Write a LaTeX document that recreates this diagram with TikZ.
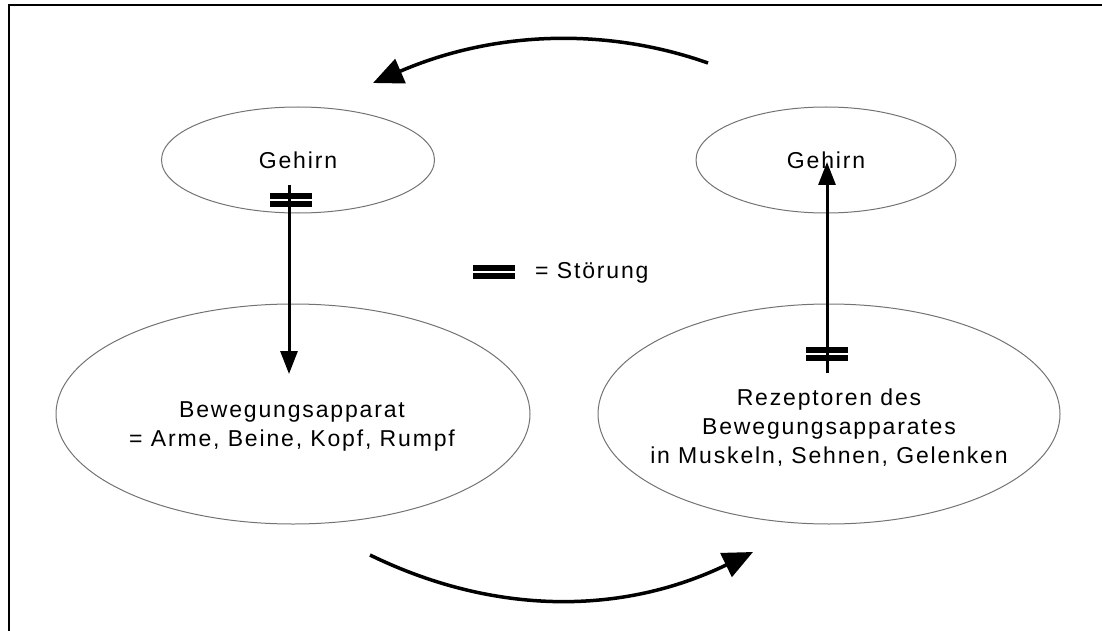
\documentclass[tikz,border=0pt]{standalone}
\usepackage{fontspec}
\setmainfont{Liberation Sans}[LetterSpace=8]
\usetikzlibrary{shapes.geometric,arrows.meta}
\tikzset{
  oval/.style={ellipse,draw=black!55,line width=1pt,inner sep=0pt},
  txt/.style={inner sep=0pt,align=center,font=\fontsize{23}{29}\selectfont},
  flow/.style={line width=3.5pt,-{Triangle[length=30pt,width=26pt]}},
  vflow/.style={line width=3pt,-{Triangle[length=23pt,width=17pt]}},
  frame/.style={line width=2pt},
  stoer/.pic={\fill (-21,-7) rectangle (21,-1); \fill (-21,1) rectangle (21,7);}
}
\begin{document}
\begin{tikzpicture}[x=1pt,y=-1pt]
\useasboundingbox (0,0) rectangle (1102,631);
\draw[frame] (9,631) -- (9,5) -- (1102,5);
% ellipses
\node[oval,minimum width=273,minimum height=106] (g1) at (298,160) {};
\node[oval,minimum width=260,minimum height=106] (g2) at (826,160) {};
\node[oval,minimum width=474,minimum height=220] (b1) at (293,414) {};
\node[oval,minimum width=462,minimum height=220] (b2) at (829,414) {};
% texts
\node[txt] (g1t) at (298,160) {Gehirn};
\node[txt] (g2t) at (826,160) {Gehirn};
\node[txt] (b1t) at (292,426) {Bewegungsapparat\\= Arme, Beine, Kopf, Rumpf};
\node[txt] (b2t) at (829,428) {Rezeptoren des\\Bewegungsapparates\\in Muskeln, Sehnen, Gelenken};
% disturbance marks
\pic at (291,200) {stoer};
\pic at (827,354) {stoer};
\pic at (494,272) {stoer};
\node[txt,anchor=base west] (leg) at (535,278) {= Störung};
% vertical arrows
\coordinate (l1) at (289,185);
\coordinate (l2) at (289,374);
\coordinate (r1) at (827,373);
\coordinate (r2) at (827,162);
\draw[vflow] (l1) -- (l2);
\draw[vflow] (r1) -- (r2);
% arcs
\coordinate (t1) at (708,63);
\coordinate (t2) at (373,83);
\coordinate (u1) at (370,555);
\coordinate (u2) at (753,552);
\draw[flow] (t1) .. controls (603,26) and (491,32) .. (t2);
\draw[flow] (u1) .. controls (495,616) and (623,615) .. (u2);
\end{tikzpicture}
\end{document}
